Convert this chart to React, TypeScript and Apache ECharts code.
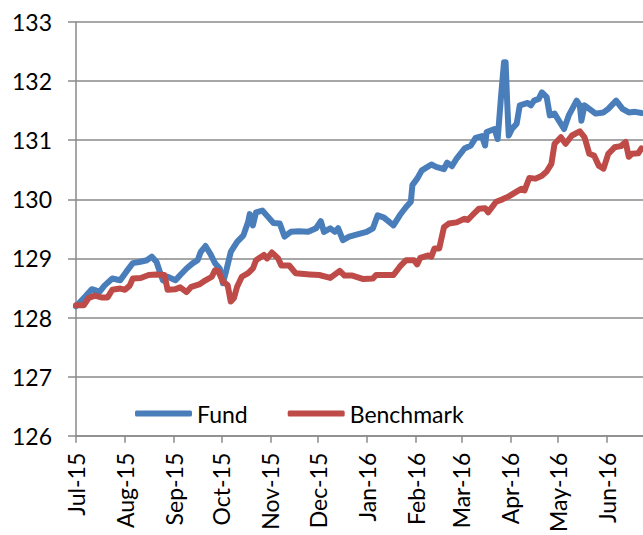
import * as echarts from "echarts";
import { useEffect, useRef } from "react";

// values, [date, value]
const fund: [string, number][] = [
  ["2015-07-01", 128.19], ["2015-07-07", 128.36], ["2015-07-11", 128.48], ["2015-07-16", 128.44],
  ["2015-07-19", 128.54], ["2015-07-24", 128.66], ["2015-07-29", 128.63], ["2015-08-02", 128.78],
  ["2015-08-06", 128.92], ["2015-08-10", 128.94], ["2015-08-15", 128.97], ["2015-08-18", 129.03],
  ["2015-08-21", 128.94], ["2015-08-23", 128.78], ["2015-08-25", 128.63], ["2015-08-28", 128.69],
  ["2015-09-02", 128.63], ["2015-09-05", 128.72], ["2015-09-09", 128.83], ["2015-09-13", 128.92],
  ["2015-09-16", 128.97], ["2015-09-18", 129.11], ["2015-09-21", 129.21], ["2015-09-24", 129.08],
  ["2015-09-27", 128.92], ["2015-09-30", 128.83], ["2015-10-02", 128.58], ["2015-10-04", 128.78],
  ["2015-10-07", 129.11], ["2015-10-11", 129.28], ["2015-10-15", 129.39], ["2015-10-18", 129.62],
  ["2015-10-19", 129.75], ["2015-10-21", 129.56], ["2015-10-23", 129.78], ["2015-10-27", 129.81],
  ["2015-10-30", 129.72], ["2015-11-03", 129.6], ["2015-11-07", 129.59], ["2015-11-10", 129.37],
  ["2015-11-14", 129.45], ["2015-11-19", 129.46], ["2015-11-25", 129.45], ["2015-11-30", 129.51],
  ["2015-12-03", 129.63], ["2015-12-05", 129.45], ["2015-12-09", 129.51], ["2015-12-12", 129.45],
  ["2015-12-14", 129.51], ["2015-12-17", 129.31], ["2015-12-21", 129.37], ["2015-12-25", 129.4],
  ["2016-01-01", 129.45], ["2016-01-05", 129.51], ["2016-01-08", 129.73], ["2016-01-12", 129.69],
  ["2016-01-18", 129.56], ["2016-01-22", 129.73], ["2016-01-26", 129.87], ["2016-01-29", 129.96],
  ["2016-01-30", 130.24], ["2016-02-02", 130.35], ["2016-02-05", 130.49], ["2016-02-11", 130.59],
  ["2016-02-14", 130.55], ["2016-02-19", 130.51], ["2016-02-21", 130.62], ["2016-02-24", 130.56],
  ["2016-02-27", 130.69], ["2016-03-03", 130.86], ["2016-03-07", 130.91], ["2016-03-10", 131.04],
  ["2016-03-14", 131.07], ["2016-03-16", 130.91], ["2016-03-17", 131.14], ["2016-03-22", 131.19],
  ["2016-03-24", 131.02], ["2016-03-26", 131.7], ["2016-03-28", 132.32], ["2016-03-29", 132.32],
  ["2016-03-30", 131.65], ["2016-03-31", 131.08], ["2016-04-02", 131.19], ["2016-04-05", 131.28],
  ["2016-04-07", 131.59], ["2016-04-12", 131.63], ["2016-04-14", 131.59], ["2016-04-16", 131.67],
  ["2016-04-19", 131.7], ["2016-04-21", 131.81], ["2016-04-24", 131.73], ["2016-04-26", 131.42],
  ["2016-04-29", 131.45], ["2016-05-05", 131.19], ["2016-05-08", 131.42], ["2016-05-13", 131.67],
  ["2016-05-15", 131.59], ["2016-05-16", 131.33], ["2016-05-18", 131.59], ["2016-05-21", 131.53],
  ["2016-05-25", 131.45], ["2016-05-30", 131.47], ["2016-06-02", 131.53], ["2016-06-07", 131.67],
  ["2016-06-11", 131.53], ["2016-06-15", 131.47], ["2016-06-19", 131.48], ["2016-06-23", 131.46],
];

const benchmark: [string, number][] = [
  ["2015-07-01", 128.21], ["2015-07-06", 128.21], ["2015-07-09", 128.33], ["2015-07-13", 128.37],
  ["2015-07-17", 128.34], ["2015-07-21", 128.34], ["2015-07-24", 128.47], ["2015-07-29", 128.49],
  ["2015-08-01", 128.47], ["2015-08-04", 128.54], ["2015-08-06", 128.66], ["2015-08-11", 128.67],
  ["2015-08-16", 128.72], ["2015-08-21", 128.73], ["2015-08-26", 128.72], ["2015-08-28", 128.47],
  ["2015-09-02", 128.48], ["2015-09-05", 128.51], ["2015-09-09", 128.43], ["2015-09-12", 128.52],
  ["2015-09-17", 128.56], ["2015-09-21", 128.63], ["2015-09-25", 128.69], ["2015-09-27", 128.8],
  ["2015-09-29", 128.79], ["2015-10-02", 128.61], ["2015-10-05", 128.55], ["2015-10-07", 128.27],
  ["2015-10-09", 128.33], ["2015-10-11", 128.52], ["2015-10-14", 128.69], ["2015-10-18", 128.75],
  ["2015-10-21", 128.83], ["2015-10-23", 128.97], ["2015-10-28", 129.06], ["2015-10-30", 129.0],
  ["2015-11-02", 129.1], ["2015-11-06", 129.0], ["2015-11-08", 128.88], ["2015-11-13", 128.88],
  ["2015-11-17", 128.75], ["2015-11-26", 128.73], ["2015-12-02", 128.72], ["2015-12-09", 128.67],
  ["2015-12-15", 128.79], ["2015-12-18", 128.71], ["2015-12-23", 128.71], ["2015-12-30", 128.65],
  ["2016-01-05", 128.66], ["2016-01-07", 128.72], ["2016-01-18", 128.72], ["2016-01-22", 128.86],
  ["2016-01-26", 128.97], ["2016-01-31", 128.97], ["2016-02-02", 128.9], ["2016-02-04", 129.01],
  ["2016-02-09", 129.05], ["2016-02-11", 129.03], ["2016-02-13", 129.17], ["2016-02-16", 129.17],
  ["2016-02-19", 129.53], ["2016-02-22", 129.59], ["2016-02-27", 129.61], ["2016-03-03", 129.67],
  ["2016-03-05", 129.65], ["2016-03-09", 129.76], ["2016-03-12", 129.84], ["2016-03-16", 129.85],
  ["2016-03-18", 129.78], ["2016-03-23", 129.96], ["2016-03-27", 130.0], ["2016-03-31", 130.05],
  ["2016-04-05", 130.13], ["2016-04-08", 130.18], ["2016-04-10", 130.15], ["2016-04-13", 130.36],
  ["2016-04-17", 130.35], ["2016-04-21", 130.4], ["2016-04-24", 130.47], ["2016-04-27", 130.6],
  ["2016-04-29", 130.94], ["2016-05-03", 131.05], ["2016-05-06", 130.94], ["2016-05-10", 131.08],
  ["2016-05-15", 131.15], ["2016-05-18", 131.05], ["2016-05-21", 130.77], ["2016-05-24", 130.74],
  ["2016-05-27", 130.57], ["2016-05-30", 130.52], ["2016-06-02", 130.77], ["2016-06-06", 130.88],
  ["2016-06-10", 130.9], ["2016-06-13", 130.97], ["2016-06-15", 130.72], ["2016-06-17", 130.77],
  ["2016-06-21", 130.78], ["2016-06-23", 130.86],
];

// month ticks on the x axis
const monthTicks = [
  "2015-07-01", "2015-08-01", "2015-09-01", "2015-10-01", "2015-11-01", "2015-12-01",
  "2016-01-01", "2016-02-01", "2016-03-01", "2016-04-01", "2016-05-01", "2016-06-01",
];
const monthNames = ["Jan", "Feb", "Mar", "Apr", "May", "Jun", "Jul", "Aug", "Sep", "Oct", "Nov", "Dec"];
const xStart = "2015-07-01";
const xEnd = "2016-06-24";

const toTs = (s: string) => {
  const [y, m, d] = s.split("-").map(Number);
  return new Date(y, m - 1, d).getTime();
};

const FONT = "Lato, 'Liberation Sans', sans-serif";
const GRID_COLOR = "#8a8a8a";

export default function App() {
  const chartRef = useRef<HTMLDivElement | null>(null);

  useEffect(() => {
    if (!chartRef.current) return;
    const chart = echarts.init(chartRef.current, undefined, { renderer: "svg" });
    const ticks = monthTicks.map(toTs);

    chart.setOption({
      animation: false,
      textStyle: { fontFamily: FONT },
      grid: { left: 76, right: 0, top: 22, bottom: 97 },
      legend: {
        left: 135,
        top: 402,
        padding: 0,
        icon: "roundRect",
        itemWidth: 57,
        itemHeight: 6,
        itemGap: 40,
        textStyle: { fontSize: 23, color: "#000", fontFamily: FONT },
        data: ["Fund", "Benchmark"],
      },
      xAxis: {
        type: "value",
        min: toTs(xStart),
        max: toTs(xEnd),
        splitLine: { show: false },
        axisLine: { show: true, lineStyle: { color: GRID_COLOR, width: 1.5 } },
        axisTick: {
          show: true,
          length: 7,
          customValues: ticks,
          lineStyle: { color: GRID_COLOR, width: 1.5 },
        },
        axisLabel: {
          customValues: ticks,
          rotate: 90,
          margin: 17,
          fontSize: 23,
          color: "#000",
          fontFamily: FONT,
          formatter: (v: number) => {
            const d = new Date(v);
            return `${monthNames[d.getMonth()]}-${String(d.getFullYear() % 100).padStart(2, "0")}`;
          },
        },
      },
      yAxis: {
        type: "value",
        min: 126,
        max: 133,
        interval: 1,
        axisLine: { show: true, lineStyle: { color: GRID_COLOR, width: 1.5 } },
        axisTick: { show: true, length: 8, lineStyle: { color: GRID_COLOR, width: 1.5 } },
        splitLine: { show: true, lineStyle: { color: GRID_COLOR, width: 1.5 } },
        axisLabel: { fontSize: 23, color: "#000", margin: 24, fontFamily: FONT },
      },
      series: [
        {
          name: "Fund",
          type: "line",
          showSymbol: false,
          symbol: "none",
          color: "#4A7EBB",
          lineStyle: { width: 6, color: "#4A7EBB", cap: "round", join: "round" },
          data: fund.map(([d, v]) => [toTs(d), v]),
        },
        {
          name: "Benchmark",
          type: "line",
          showSymbol: false,
          symbol: "none",
          color: "#BE4B48",
          lineStyle: { width: 6, color: "#BE4B48", cap: "round", join: "round" },
          data: benchmark.map(([d, v]) => [toTs(d), v]),
        },
      ],
    });

    return () => {
      chart.dispose();
    };
  }, []);

  return (
    <div
      ref={chartRef}
      style={{ position: "absolute", left: 0, top: 0, width: 643, height: 535 }}
    />
  );
}
